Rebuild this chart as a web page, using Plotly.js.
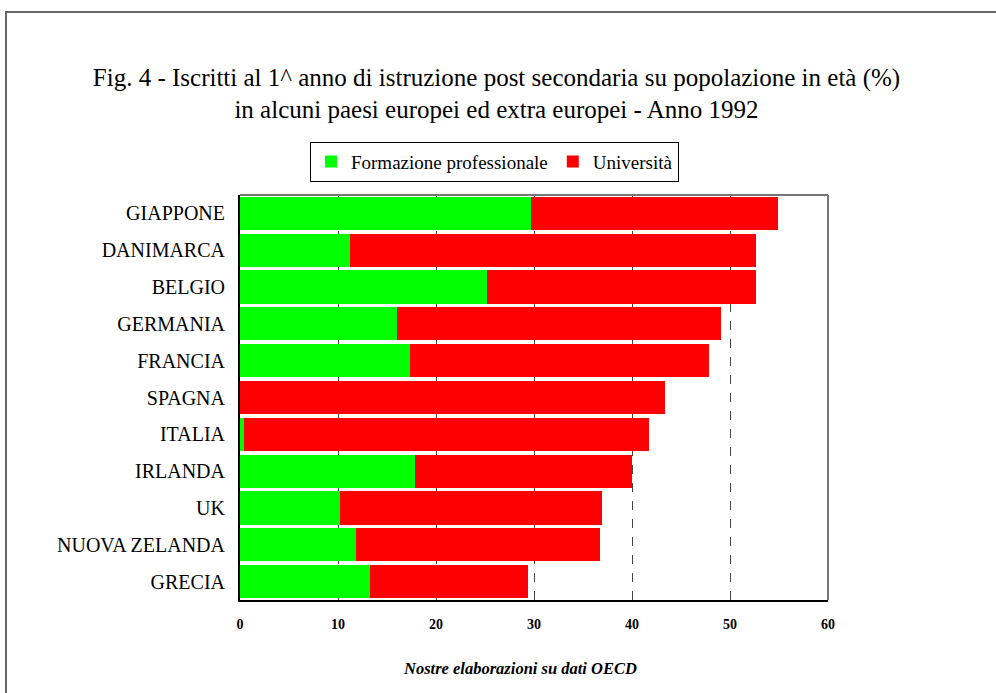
<!DOCTYPE html>
<html>
<head>
<meta charset="utf-8">
<script src="https://cdn.plot.ly/plotly-3.0.1.min.js"></script>
<style>
  html, body { margin: 0; padding: 0; background: #fff; }
  #chart { position: absolute; left: 0; top: 0; width: 996px; height: 693px; }
  #frame { position: absolute; left: 5px; top: 11px; width: 1000px; height: 700px;
           border-top: 2px solid #666; border-left: 2px solid #666; pointer-events: none; }
</style>
</head>
<body>
<div id="chart"></div>
<div id="frame"></div>
<script>
const countries = ["GIAPPONE", "DANIMARCA", "BELGIO", "GERMANIA", "FRANCIA", "SPAGNA", "ITALIA", "IRLANDA", "UK", "NUOVA ZELANDA", "GRECIA"];
const formazione = [29.7, 11.2, 25.2, 16.0, 17.3, 0, 0.4, 17.9, 10.2, 11.8, 13.3];
const universita = [25.2, 41.5, 27.5, 33.1, 30.6, 43.4, 41.3, 22.1, 26.7, 24.9, 16.1];
const xTicks = [0, 10, 20, 30, 40, 50, 60];

const serif = "Liberation Serif, Times New Roman, serif";

const traces = [
  { type: "bar", orientation: "h", name: "Formazione professionale",
    y: countries, x: formazione, marker: { color: "#00ff00", line: { width: 0 } } },
  { type: "bar", orientation: "h", name: "Università",
    y: countries, x: universita, marker: { color: "#ff0000", line: { width: 0 } } }
];

const layout = {
  width: 996, height: 693,
  margin: { l: 240, r: 168, t: 195, b: 93 },
  paper_bgcolor: "#fff", plot_bgcolor: "#fff",
  barmode: "stack", bargap: 0.1,
  font: { family: serif, color: "#000" },
  title: {
    text: "Fig. 4 - Iscritti al 1^ anno di istruzione post secondaria su popolazione in età (%)<br>in alcuni paesi europei ed extra europei - Anno 1992",
    font: { family: serif, size: 25, color: "#000" },
    xref: "container", x: 0.4985, xanchor: "center",
    yref: "container", y: 0.876, yanchor: "middle"
  },
  xaxis: {
    range: [0, 60], tickvals: xTicks, ticktext: xTicks.map(String),
    tickfont: { family: serif, size: 14, weight: "bold", color: "#000" },
    ticks: "outside", ticklen: 10, tickcolor: "rgba(0,0,0,0)",
    showgrid: true, gridcolor: "#444", griddash: "dash", gridwidth: 1,
    showline: true, linecolor: "#000", linewidth: 2,
    zeroline: false, fixedrange: true
  },
  yaxis: {
    autorange: "reversed", type: "category",
    tickfont: { family: serif, size: 20, color: "#000" },
    ticks: "outside", ticklen: 9, tickcolor: "rgba(0,0,0,0)",
    showline: true, linecolor: "#000", linewidth: 2,
    showgrid: false, zeroline: false, fixedrange: true
  },
  shapes: [
    { type: "line", xref: "paper", yref: "paper", x0: 0, x1: 1, y0: 1, y1: 1, line: { color: "#777", width: 2 } },
    { type: "line", xref: "paper", yref: "paper", x0: 1, x1: 1, y0: 0, y1: 1, line: { color: "#777", width: 2 } }
  ],
  legend: {
    orientation: "h", x: 0.119, xanchor: "left", y: 1.132, yanchor: "top",
    bordercolor: "#000", borderwidth: 1, bgcolor: "#fff",
    font: { family: serif, size: 19, color: "#000" },
    traceorder: "normal", itemwidth: 30
  },
  annotations: [
    { text: "<b><i>Nostre elaborazioni su dati OECD</i></b>", xref: "paper", yref: "paper",
      x: 0.476, y: -0.168, xanchor: "center", yanchor: "middle", showarrow: false,
      font: { family: serif, size: 16.5, color: "#000" } }
  ],
  showlegend: true
};

Plotly.newPlot("chart", traces, layout, { displayModeBar: false, staticPlot: true });
</script>
</body>
</html>
